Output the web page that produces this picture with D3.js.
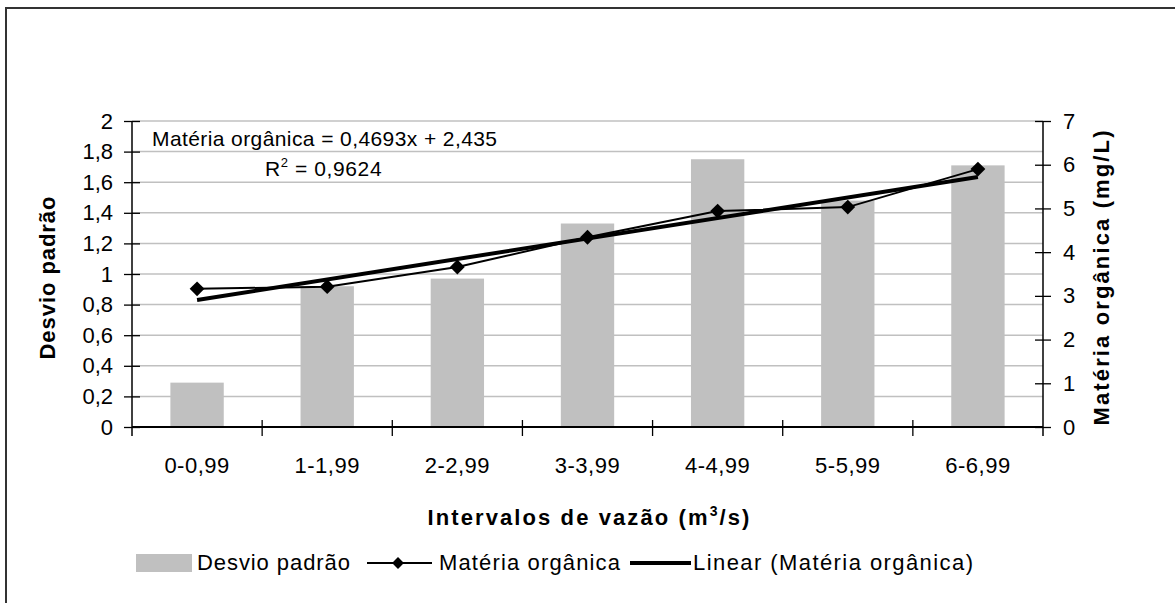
<!DOCTYPE html>
<html>
<head>
<meta charset="utf-8">
<script src="https://cdn.jsdelivr.net/npm/d3@7"></script>
<style>
  html, body { margin: 0; padding: 0; background: #fff; }
  svg { display: block; font-family: Arial, "Liberation Sans", sans-serif; }
</style>
</head>
<body>
<svg id="chart" width="1175" height="603"></svg>
<script>
const categories = ["0-0,99", "1-1,99", "2-2,99", "3-3,99", "4-4,99", "5-5,99", "6-6,99"];
const desvioPadrao = [0.29, 0.92, 0.97, 1.33, 1.75, 1.48, 1.71];
const materiaOrganica = [3.16, 3.21, 3.66, 4.34, 4.94, 5.03, 5.90];
const trendSlope = 0.4693;
const trendIntercept = 2.435;
const leftTicks = [0, 0.2, 0.4, 0.6, 0.8, 1, 1.2, 1.4, 1.6, 1.8, 2];
const rightTicks = [0, 1, 2, 3, 4, 5, 6, 7];
const equationText = "Matéria orgânica = 0,4693x + 2,435";
const r2Value = "0,9624";

const svg = d3.select("#chart");
const m = { left: 132, right: 1043, top: 121, bottom: 427 };
const FONT = "Arial, 'Liberation Sans', sans-serif";

// outer border
svg.append("rect").attr("x", 6).attr("y", 8).attr("width", 1300).attr("height", 800)
  .attr("fill", "none").attr("stroke", "#333").attr("stroke-width", 2);

const x = d3.scaleBand().domain(categories).range([m.left, m.right]).paddingInner(0).paddingOuter(0);
const yL = d3.scaleLinear().domain([0, 2]).range([m.bottom, m.top]);
const yR = d3.scaleLinear().domain([0, 7]).range([m.bottom, m.top]);
const fmt = d => String(d).replace(".", ",");

// gridlines
svg.append("g").selectAll("line").data(leftTicks.filter(d => d > 0)).join("line")
  .attr("x1", m.left).attr("x2", m.right)
  .attr("y1", d => yL(d)).attr("y2", d => yL(d))
  .attr("stroke", "#c0c0c0").attr("stroke-width", 1.5);

// bars
const bw = x.bandwidth() * 0.41;
svg.append("g").selectAll("rect").data(categories).join("rect")
  .attr("x", (c) => x(c) + x.bandwidth() / 2 - bw / 2)
  .attr("width", bw)
  .attr("y", (c, i) => yL(desvioPadrao[i]))
  .attr("height", (c, i) => yL(0) - yL(desvioPadrao[i]))
  .attr("fill", "#c0c0c0");

// left axis
const axL = svg.append("g").attr("transform", `translate(${m.left},0)`)
  .call(d3.axisLeft(yL).tickValues(leftTicks).tickFormat(fmt).tickSize(8).tickPadding(11));
axL.select(".domain").remove();
axL.selectAll(".tick line").attr("x1", -8).attr("x2", 8).attr("stroke", "#000").attr("stroke-width", 1.3);
axL.selectAll(".tick text").attr("font-size", 22).attr("fill", "#000").attr("font-family", FONT);
svg.append("line").attr("x1", m.left).attr("x2", m.left).attr("y1", m.top).attr("y2", m.bottom + 9)
  .attr("stroke", "#000").attr("stroke-width", 1.5);

// right axis
const axR = svg.append("g").attr("transform", `translate(${m.right},0)`)
  .call(d3.axisRight(yR).tickValues(rightTicks).tickFormat(fmt).tickSize(8).tickPadding(12));
axR.select(".domain").remove();
axR.selectAll(".tick line").attr("x1", -8).attr("x2", 8).attr("stroke", "#000").attr("stroke-width", 1.3);
axR.selectAll(".tick text").attr("font-size", 22).attr("fill", "#000").attr("font-family", FONT);
svg.append("line").attr("x1", m.right).attr("x2", m.right).attr("y1", m.top).attr("y2", m.bottom + 9)
  .attr("stroke", "#000").attr("stroke-width", 1.5);

// x axis
const axB = svg.append("g").attr("transform", `translate(0,${m.bottom})`)
  .call(d3.axisBottom(x).tickSize(0).tickPadding(30));
axB.select(".domain").remove();
axB.selectAll(".tick text").attr("font-size", 22).attr("letter-spacing", 0.5).attr("fill", "#000").attr("font-family", FONT);
svg.append("line").attr("x1", m.left).attr("x2", m.right).attr("y1", m.bottom).attr("y2", m.bottom)
  .attr("stroke", "#000").attr("stroke-width", 2);
svg.append("g").selectAll("line").data(categories.slice(1)).join("line")
  .attr("x1", c => x(c)).attr("x2", c => x(c))
  .attr("y1", m.bottom - 7).attr("y2", m.bottom + 9)
  .attr("stroke", "#000").attr("stroke-width", 1.3);

// trend line
const cx = (i) => x(categories[i]) + x.bandwidth() / 2;
const trendPts = [0, categories.length - 1].map(i => [cx(i), yR(trendSlope * (i + 1) + trendIntercept)]);
svg.append("path").attr("d", d3.line()(trendPts))
  .attr("fill", "none").attr("stroke", "#000").attr("stroke-width", 4);

// data line
const line = d3.line().x((d, i) => cx(i)).y(d => yR(d));
svg.append("path").attr("d", line(materiaOrganica))
  .attr("fill", "none").attr("stroke", "#000").attr("stroke-width", 2);
const diamond = d3.symbol().type(d3.symbolDiamond2).size(140);
svg.append("g").selectAll("path").data(materiaOrganica).join("path")
  .attr("transform", (d, i) => `translate(${cx(i)},${yR(d)})`)
  .attr("d", diamond).attr("fill", "#000");

// equation
svg.append("text").attr("x", 152).attr("y", 146).attr("font-size", 21)
  .attr("textLength", 345).attr("lengthAdjust", "spacing").text(equationText);
const r2 = svg.append("text").attr("x", 265).attr("y", 176).attr("font-size", 21).attr("letter-spacing", 0.6);
r2.append("tspan").text("R");
r2.append("tspan").attr("font-size", 13).attr("dy", -9).text("2");
r2.append("tspan").attr("dy", 9).text(" = " + r2Value);

// axis titles
svg.append("text").attr("transform", `translate(55,278) rotate(-90)`)
  .attr("text-anchor", "middle").attr("font-size", 22).attr("font-weight", "bold")
  .attr("textLength", 163).attr("lengthAdjust", "spacing").text("Desvio padrão");
svg.append("text").attr("transform", `translate(1109,278) rotate(-90)`)
  .attr("text-anchor", "middle").attr("font-size", 22).attr("font-weight", "bold")
  .attr("textLength", 295).attr("lengthAdjust", "spacing").text("Matéria orgânica (mg/L)");
const xt = svg.append("text").attr("x", (m.left + m.right) / 2 + 2).attr("y", 525)
  .attr("text-anchor", "middle").attr("font-size", 22).attr("font-weight", "bold").attr("letter-spacing", 2.1);
xt.append("tspan").text("Intervalos de vazão (m");
xt.append("tspan").attr("font-size", 14).attr("dy", -9).text("3");
xt.append("tspan").attr("dy", 9).text("/s)");

// legend
const lg = svg.append("g");
const ly = 563;
lg.append("rect").attr("x", 136).attr("y", ly - 9).attr("width", 56).attr("height", 18).attr("fill", "#c0c0c0");
lg.append("text").attr("x", 197).attr("y", ly + 7).attr("font-size", 22)
  .attr("textLength", 153).attr("lengthAdjust", "spacing").text("Desvio padrão");
lg.append("line").attr("x1", 367).attr("x2", 432).attr("y1", ly).attr("y2", ly).attr("stroke", "#000").attr("stroke-width", 2);
lg.append("path").attr("transform", `translate(398,${ly})`).attr("d", d3.symbol().type(d3.symbolDiamond2).size(90)).attr("fill", "#000");
lg.append("text").attr("x", 439).attr("y", ly + 7).attr("font-size", 22)
  .attr("textLength", 181).attr("lengthAdjust", "spacing").text("Matéria orgânica");
lg.append("line").attr("x1", 630).attr("x2", 691).attr("y1", ly).attr("y2", ly).attr("stroke", "#000").attr("stroke-width", 4);
lg.append("text").attr("x", 693).attr("y", ly + 7).attr("font-size", 22)
  .attr("textLength", 280).attr("lengthAdjust", "spacing").text("Linear (Matéria orgânica)");
</script>
</body>
</html>
